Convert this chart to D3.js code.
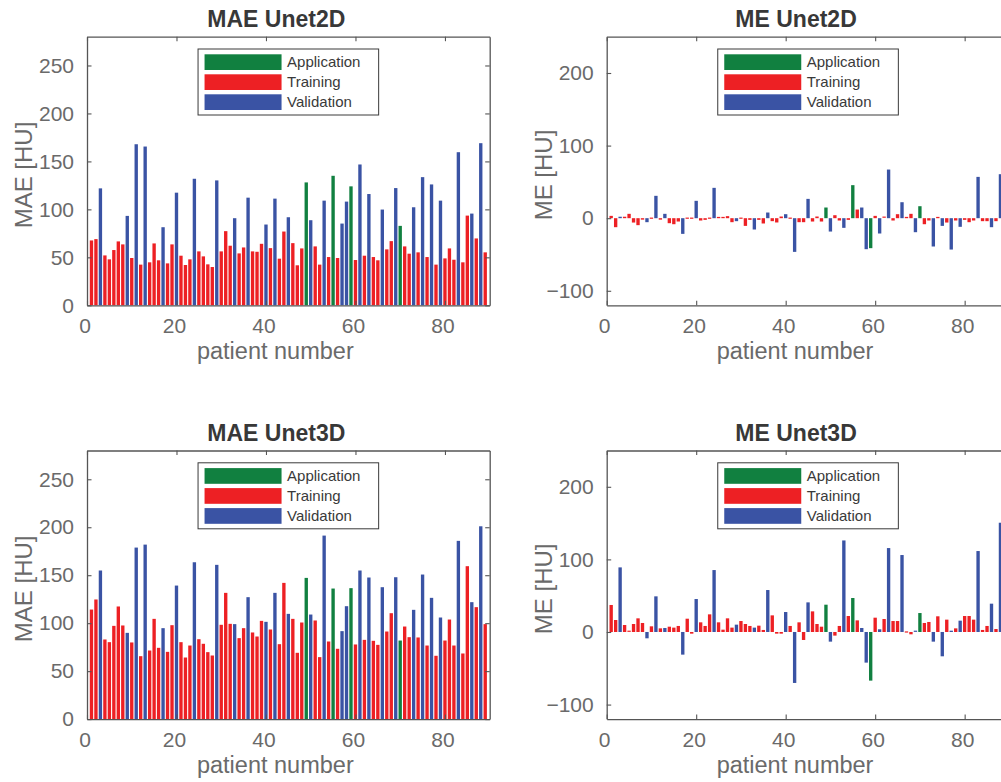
<!DOCTYPE html>
<html>
<head>
<meta charset="utf-8">
<script src="https://cdn.jsdelivr.net/npm/d3@7"></script>
<style>
  html, body { margin: 0; padding: 0; background: #fff; }
  svg { display: block; font-family: "Liberation Sans", Arial, Helvetica, sans-serif; }
</style>
</head>
<body>
<svg id="fig" width="1001" height="782"></svg>
<script>
// Patient group per patient number (1..89): A = Application, T = Training, V = Validation
const group = [
  "T","T","V","T","T","T","T","T","V","T",
  "V","T","V","T","T","T","V","T","T","V",
  "T","T","T","V","T","T","T","T","V","T",
  "T","T","V","T","T","V","T","T","T","V",
  "T","V","T","T","V","T","T","T","A","V",
  "T","T","V","T","A","T","V","V","A","T",
  "V","T","V","T","T","V","T","T","V","A",
  "T","T","V","T","V","T","V","T","V","T",
  "T","T","V","T","T","V","T","V","T"
];

// Mean absolute error [HU], Unet2D
const mae2d = [
  67.6, 69, 121.9, 52, 47.9, 57.6, 66.6, 63.5, 93.2, 49.3,
  167.9, 42.4, 165.5, 44.8, 64.5, 46.9, 81.4, 43.7, 63.5, 117.4,
  51.7, 42, 47.9, 131.9, 56.2, 51, 42.7, 39.9, 130.2, 56.2,
  77.3, 62.1, 90.8, 54.1, 60.3, 112.2, 56.2, 55.8, 64.1, 84.2,
  59.6, 111.2, 48.6, 76.9, 91.8, 64.8, 41.7, 59.3, 128.1, 88.7,
  61.4, 42.4, 109.1, 50.3, 135, 49.3, 85.2, 108.1, 124, 47.2,
  146.8, 51.7, 116, 50.3, 46.9, 99.8, 58.3, 66.9, 122.2, 82.8,
  61.4, 53.8, 102.2, 55.2, 133.6, 50.3, 126, 42.4, 109.1, 48.9,
  59.3, 47.5, 159.6, 44.8, 93.5, 95.6, 69.7, 169, 55.2
];

// Mean error [HU], Unet2D
const me2d = [
  3.2, -12.4, 2, 2, 6, -6, -9.6, -2, -5.5, -1,
  30.8, -2, 6, -6.9, -8.3, -4.6, -21.6, -1, -1, 23.9,
  -3.2, -2.3, -1, 41.8, 1.8, 1.8, 2.8, -5.5, -4.1, -1,
  -10.6, -2.3, -15.6, -2.3, -7.3, 7.8, -4.1, -5.9, 2.3, 5.5,
  -1, -46.4, -5.5, -5.5, 26.6, -4.6, 2.3, -4.6, 14.7, -18.4,
  4.1, -3.2, -13.3, -2.3, 45.5, 11.9, 14.7, -42.7, -41.3, 3.2,
  -21.1, 1.4, 67, -3.2, 5.5, 22, 1.8, 6, -19.3, 16.5,
  -8.3, -3.2, -39, 1.8, -10.6, -6, -43.2, -3.2, -11.9, -2.3,
  -5.5, -3.2, 56.9, -4.1, -4.1, -12.4, -4.1, 60.6, -3
];

// Mean absolute error [HU], Unet3D
const mae3d = [
  114.2, 124.7, 154.9, 83, 80.2, 97.2, 117.4, 97.6, 89.9, 79.9,
  178.8, 65.6, 181.9, 71.5, 104.5, 74.3, 94.8, 70.1, 97.9, 139.2,
  80.2, 64.2, 76.7, 163.5, 83.3, 78.5, 69.8, 66.3, 160.8, 98.3,
  131.6, 99.3, 99, 84.4, 94.8, 127.1, 90.3, 86.1, 102.4, 101.4,
  93.4, 131.6, 78.1, 142, 109.7, 104.5, 69.1, 100.7, 147.2, 109,
  102.8, 64.6, 191.3, 80.9, 136.1, 73.3, 91.7, 117.7, 136.5, 77.8,
  154.9, 82.6, 147.6, 81.6, 77.4, 137.5, 91.3, 110.4, 147.9, 81.9,
  96.5, 85.4, 113.9, 85.1, 150.7, 76.7, 126.4, 66, 105.9, 81.9,
  103.8, 76.7, 185.8, 68.4, 159.4, 121.9, 116.7, 201, 99
];

// Mean error [HU], Unet3D
const me3d = [
  37.2, 16.5, 89, 9.6, 1, 11, 18.8, 12.4, -8.7, 7.8,
  49.1, 5, 5.5, 7.3, 6, 8.3, -31.2, 18.3, -2.3, 45.4,
  13.3, 8.3, 24.3, 85.3, 13.3, 3.2, 18.8, 6, 10.1, 15.1,
  11, 8.3, 6, 8.7, 2.8, 57.8, 22.9, -2.3, -2.3, 27.5,
  8.3, -70.2, 13.3, -11, 40.8, 28.4, 11, 7.3, 37.6, -13.3,
  -5, 8.3, 126.1, 22, 46.8, 16, 5.5, -42.2, -67, 19.7,
  3.7, 17.9, 115.6, 15.1, 15.1, 106, -1.4, -3.2, 1, 26.1,
  12.4, 13.8, -13.3, 21.6, -33.5, 17, 1.8, 5, 15.6, 22,
  22, 17, 111.5, 2.8, 8.3, 39, 4.1, 150.5, 5
];

const legendLabels = ["Application", "Training", "Validation"];
const groupKeys = ["A", "T", "V"];
const groupColors = ["#118040", "#ed2024", "#3a53a4"];

const xTicks = [0, 20, 40, 60, 80];
const maeTicks = [0, 50, 100, 150, 200, 250];
const meTicks = [-100, 0, 100, 200];

const panels = [
  { title: "MAE Unet2D", ylabel: "MAE [HU]", values: mae2d, ydom: [0, 280], yticks: maeTicks, left: 87, top: 36.7 },
  { title: "ME Unet2D",  ylabel: "ME [HU]",  values: me2d,  ydom: [-120, 250], yticks: meTicks, left: 606.7, top: 36.7 },
  { title: "MAE Unet3D", ylabel: "MAE [HU]", values: mae3d, ydom: [0, 280], yticks: maeTicks, left: 87, top: 450.5 },
  { title: "ME Unet3D",  ylabel: "ME [HU]",  values: me3d,  ydom: [-120, 250], yticks: meTicks, left: 606.7, top: 450.5 }
];

const W = 402.7, H = 268.6;
const axisColor = "#555";
const tickTextColor = "#6a6a6a";
const color = d3.scaleOrdinal().domain(groupKeys).range(groupColors);

const svg = d3.select("#fig");

panels.forEach(p => {
  const g = svg.append("g").attr("transform", `translate(${p.left},${p.top})`);
  const x = d3.scaleLinear().domain([0, 90]).range([0, W]);
  const y = d3.scaleLinear().domain(p.ydom).range([H, 0]);
  const bw = (x(1) - x(0)) * 0.75;

  // bars (near-zero values still leave a thin sliver on the baseline)
  g.append("g").selectAll("rect")
    .data(p.values.map((v, i) => ({ n: i + 1, v, grp: group[i] })))
    .join("rect")
    .attr("x", d => x(d.n) - bw / 2)
    .attr("y", d => Math.min(y(d.v), y(0)) - (Math.abs(y(d.v) - y(0)) < 1.2 ? 0.6 : 0))
    .attr("width", bw)
    .attr("height", d => Math.max(Math.abs(y(d.v) - y(0)), 1.2))
    .attr("fill", d => color(d.grp));

  // axes: box with inward ticks on all sides
  const tickLen = 4.5;
  const bottom = g.append("g").attr("transform", `translate(0,${H})`)
    .call(d3.axisBottom(x).tickValues(xTicks).tickSizeInner(-tickLen).tickSizeOuter(0).tickPadding(13));
  const topAx = g.append("g")
    .call(d3.axisTop(x).tickValues(xTicks).tickSizeInner(-tickLen).tickSizeOuter(0).tickFormat(""));
  const leftAx = g.append("g")
    .call(d3.axisLeft(y).tickValues(p.yticks).tickSizeInner(-tickLen).tickSizeOuter(0).tickPadding(13));
  const rightAx = g.append("g").attr("transform", `translate(${W},0)`)
    .call(d3.axisRight(y).tickValues(p.yticks).tickSizeInner(-tickLen).tickSizeOuter(0).tickFormat(""));

  [bottom, topAx, leftAx, rightAx].forEach(a => {
    a.select(".domain").attr("stroke", axisColor).attr("stroke-width", 1.3);
    a.selectAll(".tick line").attr("stroke", axisColor).attr("stroke-width", 1.1);
    a.selectAll(".tick text")
      .attr("fill", tickTextColor)
      .style("font-size", "21px")
      .style("font-family", "'Liberation Sans', Arial, Helvetica, sans-serif");
  });
  bottom.selectAll(".tick text").attr("dy", "0.71em").attr("x", -2.5);

  // title
  g.append("text")
    .attr("x", W / 2 - 12).attr("y", -10)
    .attr("text-anchor", "middle")
    .attr("fill", "#383838")
    .style("font-size", "23px").style("font-weight", "bold")
    .text(p.title);

  // axis labels
  g.append("text")
    .attr("x", W / 2 - 13).attr("y", H + 54)
    .attr("text-anchor", "middle")
    .attr("fill", tickTextColor)
    .style("font-size", "23.5px")
    .text("patient number");
  g.append("text")
    .attr("transform", `translate(-55,${H / 2 + 4}) rotate(-90)`)
    .attr("text-anchor", "middle")
    .attr("fill", tickTextColor)
    .style("font-size", "24px")
    .text(p.ylabel);

  // legend
  const lgW = 180.6, lgH = 66;
  const lg = g.append("g").attr("transform", `translate(${W / 2 - lgW / 2},12.3)`);
  lg.append("rect").attr("width", lgW).attr("height", lgH)
    .attr("fill", "#fff").attr("stroke", "#3a3a3a").attr("stroke-width", 1);
  legendLabels.forEach((lab, i) => {
    lg.append("rect")
      .attr("x", 6.5).attr("y", 5.3 + i * 20)
      .attr("width", 77).attr("height", 15.7)
      .attr("fill", groupColors[i]);
    lg.append("text")
      .attr("x", 89).attr("y", 13.2 + i * 20)
      .attr("dy", "0.35em")
      .attr("fill", "#3a3a3a")
      .style("font-size", "15px")
      .text(lab);
  });
});
</script>
</body>
</html>
